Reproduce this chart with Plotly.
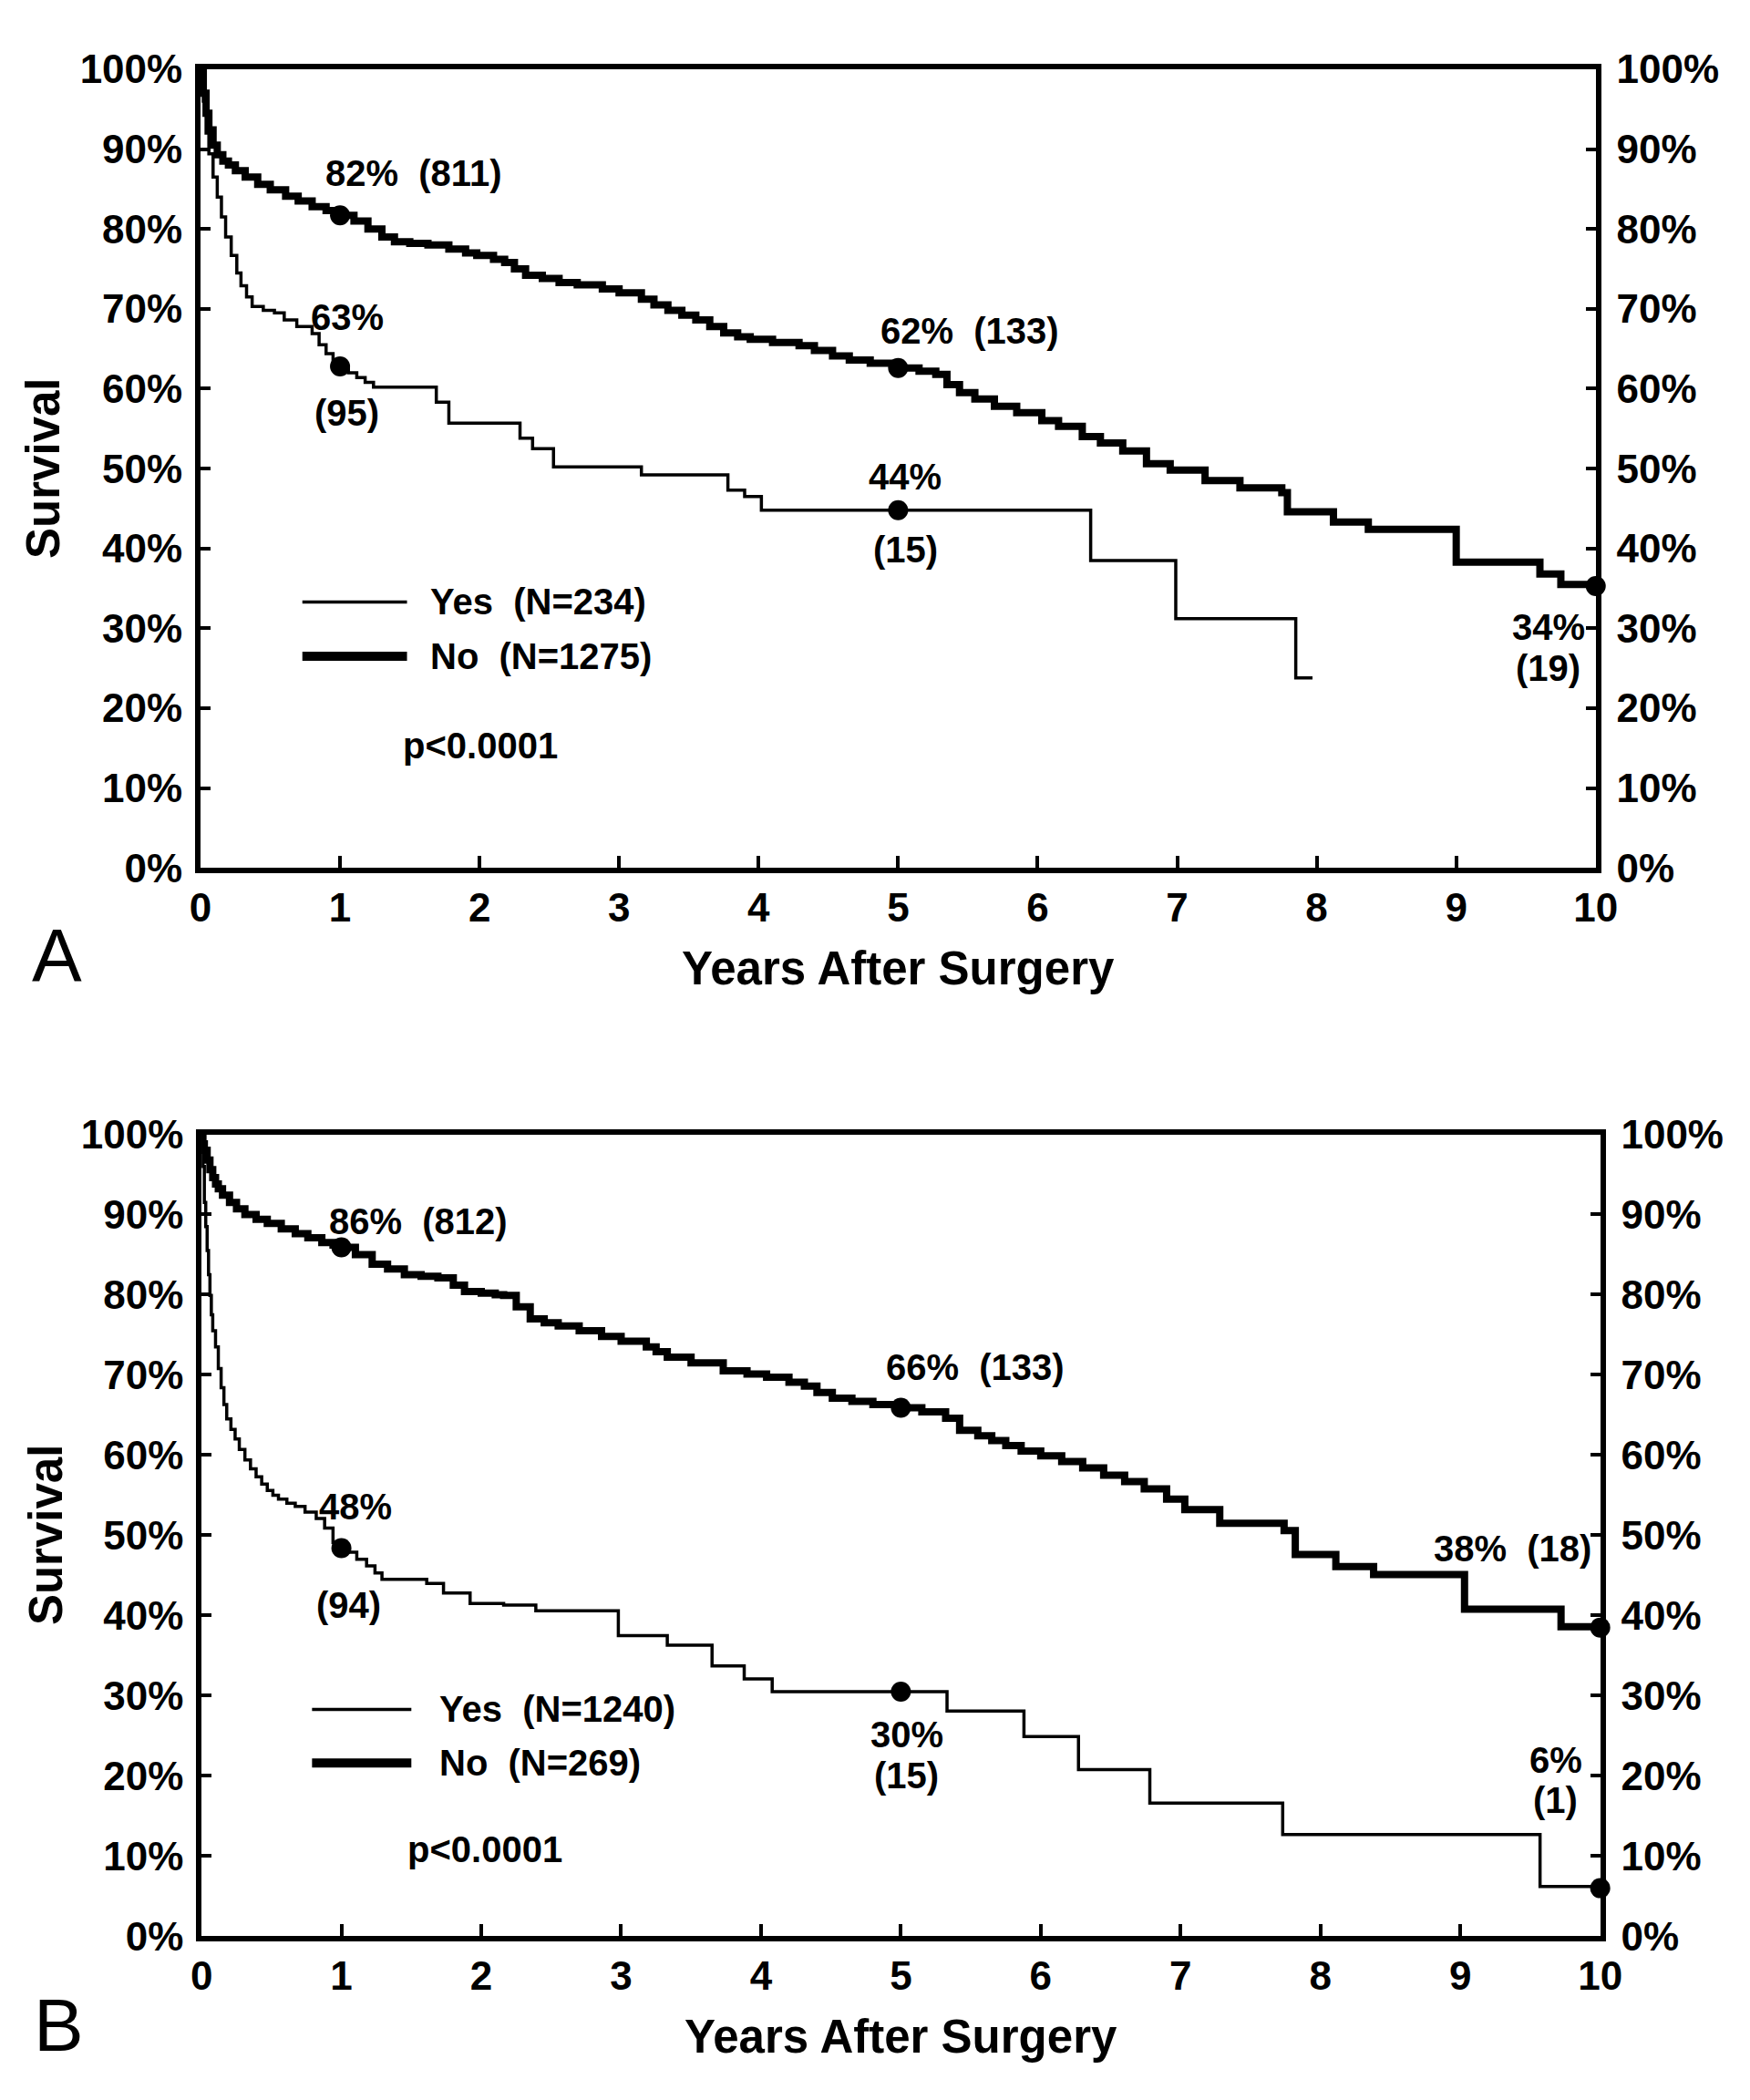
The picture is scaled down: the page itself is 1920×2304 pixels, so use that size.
import plotly.graph_objects as go

# ---------------- data ----------------
years_ticks = [0, 1, 2, 3, 4, 5, 6, 7, 8, 9, 10]
pct_ticks = [0, 10, 20, 30, 40, 50, 60, 70, 80, 90, 100]
pct_labels = [f"{v}%" for v in pct_ticks]

# Panel A - "No" (thick)
a_no_t = [0, 0.02, 0.04, 0.06, 0.09, 0.12, 0.16, 0.2, 0.25, 0.32,
          0.41, 0.5, 0.61, 0.7, 0.8, 0.9, 1.0, 1.1, 1.2, 1.3,
          1.39, 1.5, 1.63, 1.78, 1.9, 1.98, 2.1, 2.18, 2.25, 2.33,
          2.45, 2.57, 2.7, 2.88, 3.0, 3.16, 3.25, 3.35, 3.45, 3.55,
          3.65, 3.75, 3.85, 3.94, 4.1, 4.29, 4.4, 4.53, 4.65, 4.8,
          5.0, 5.15, 5.27, 5.35, 5.44, 5.55, 5.69, 5.85, 6.03, 6.15,
          6.32, 6.45, 6.61, 6.78, 6.95, 7.2, 7.45, 7.75, 7.79, 8.12,
          8.37, 9.0, 9.6, 9.75, 10.0]
a_no_s = [100, 97, 94.5, 92.4, 90.5, 89.3, 88.5, 88, 87.3, 86.5,
          85.6, 84.9, 84.1, 83.5, 82.8, 82.3, 81.7, 81, 80, 79,
          78.4, 78.2, 78, 77.5, 77, 76.7, 76.2, 75.8, 75, 74.2,
          73.8, 73.3, 73, 72.5, 72, 71.2, 70.5, 69.8, 69.2, 68.6,
          67.8, 67, 66.5, 66.2, 65.8, 65.4, 64.8, 64.1, 63.6, 63.2,
          62.6, 62.2, 61.8, 60.5, 59.5, 58.7, 57.8, 57, 56, 55.3,
          54.0, 53.2, 52.2, 50.6, 49.8, 48.5, 47.6, 47.0, 44.6, 43.3,
          42.4, 38.3, 36.8, 35.5, 35.3]

# Panel A - "Yes" (thin)
a_yes_t = [0, 0.02, 0.04, 0.06, 0.09, 0.12, 0.15, 0.18, 0.22, 0.26,
           0.29, 0.33, 0.37, 0.45, 0.53, 0.6, 0.69, 0.8, 0.85, 0.9,
           0.95, 1.0, 1.06, 1.12, 1.18, 1.24, 1.69, 1.78, 2.29, 2.38,
           2.53, 3.16, 3.78, 3.9, 4.02, 6.38, 6.99, 7.85, 7.97]
a_yes_s = [100, 96, 92, 89.4, 86.5, 84, 81.5, 79, 76.7, 74.5,
           72.9, 71.5, 70.3, 69.8, 69.5, 68.6, 67.8, 66.9, 65.5, 64.4,
           63.5, 62.8, 62, 61.4, 60.8, 60.2, 58.3, 55.7, 53.8, 52.5,
           50.2, 49.2, 47.3, 46.5, 44.8, 38.5, 31.2, 23.8, 23.8]

# Panel B - "No" (thick)
b_no_t = [0, 0.01, 0.02, 0.04, 0.06, 0.08, 0.1, 0.12, 0.15, 0.2,
          0.25, 0.31, 0.39, 0.47, 0.57, 0.67, 0.76, 0.86, 0.94, 1.02,
          1.1, 1.22, 1.33, 1.45, 1.57, 1.69, 1.8, 1.88, 2.0, 2.1,
          2.16, 2.25, 2.35, 2.45, 2.55, 2.7, 2.86, 3.0, 3.18, 3.25,
          3.33, 3.5, 3.73, 3.9, 4.04, 4.2, 4.31, 4.4, 4.51, 4.65,
          4.8, 5.0, 5.15, 5.32, 5.42, 5.55, 5.65, 5.75, 5.86, 6.0,
          6.15, 6.3, 6.45, 6.6, 6.74, 6.9, 7.03, 7.28, 7.74, 7.82,
          8.11, 8.38, 9.03, 9.72, 10.0]
b_no_s = [100, 98.8, 98, 96.8, 95.6, 94.6, 93.8, 93.2, 92.4, 91.5,
          90.7, 90, 89.4, 88.9, 88.2, 87.6, 87.1, 86.5, 86.2, 85.9,
          85, 83.8, 83.2, 82.5, 82.3, 82.1, 81.2, 80.4, 80.2, 80,
          79.9, 78.5, 77, 76.5, 76.1, 75.5, 74.8, 74.2, 73.5, 72.9,
          72.2, 71.5, 70.5, 70.1, 69.7, 69.1, 68.6, 67.8, 67.1, 66.7,
          66.3, 65.9, 65.4, 64.6, 63.1, 62.4, 61.8, 61.2, 60.5, 59.9,
          59.2, 58.4, 57.5, 56.7, 55.8, 54.5, 53.2, 51.5, 50.6, 47.6,
          46.1, 45.1, 40.8, 38.6, 38.5]

# Panel B - "Yes" (thin)
b_yes_t = [0, 0.01, 0.02, 0.03, 0.04, 0.05, 0.06, 0.07, 0.08, 0.1,
           0.12, 0.14, 0.16, 0.18, 0.21, 0.24, 0.27, 0.31, 0.35, 0.39,
           0.43, 0.47, 0.51, 0.55, 0.61, 0.67, 0.74, 0.82, 0.88, 0.94,
           1.0, 1.04, 1.11, 1.18, 1.24, 1.29, 1.61, 1.73, 1.92, 2.16,
           2.39, 2.98, 3.33, 3.65, 3.88, 4.08, 5.33, 5.88, 6.27, 6.78,
           7.73, 9.57, 10.0]
b_yes_s = [100, 96, 91.5, 88.5, 85.5, 82.5, 79.9, 77.5, 75.5, 73.5,
           70.8, 68.4, 66.3, 64.5, 63.2, 62, 60.7, 59.4, 58.3, 57.3,
           56.4, 55.6, 55, 54.5, 54, 53.6, 52.9, 52.1, 50.9, 49.1,
           48.4, 47.9, 47, 46.2, 45.3, 44.5, 44, 42.8, 41.5, 41.3,
           40.6, 37.5, 36.3, 33.7, 32.1, 30.5, 28.1, 24.9, 20.8, 16.6,
           12.7, 6.2, 6.0]

# highlighted points
a_no_mark_t = [1, 5, 10]
a_no_mark_s = [81.7, 62.6, 35.3]
a_yes_mark_t = [1, 5]
a_yes_mark_s = [62.8, 44.8]
b_no_mark_t = [1, 5, 10]
b_no_mark_s = [85.9, 65.9, 38.5]
b_yes_mark_t = [1, 5, 10]
b_yes_mark_s = [48.4, 30.5, 6.0]

# texts
a_legend = ["Yes  (N=234)", "No  (N=1275)"]
b_legend = ["Yes  (N=1240)", "No  (N=269)"]
p_text = "p<0.0001"
a_labels = ["82%  (811)", "63%", "(95)", "62%  (133)", "44%", "(15)", "34%", "(19)"]
b_labels = ["86%  (812)", "48%", "(94)", "66%  (133)", "30%", "(15)", "38%  (18)", "6%", "(1)"]

# ---------------- figure ----------------
FONT = "Liberation Sans, Arial, Helvetica, sans-serif"
THICK = 8
THIN = 3.5
FRAME = 6

fig = go.Figure()

def add_curve(t, s, width, xa, ya):
    fig.add_trace(go.Scatter(x=t, y=s, mode="lines", xaxis=xa, yaxis=ya,
                             line=dict(shape="hv", width=width, color="black"),
                             cliponaxis=False, showlegend=False, hoverinfo="skip"))

def add_marks(t, s, xa, ya):
    fig.add_trace(go.Scatter(x=t, y=s, mode="markers", xaxis=xa, yaxis=ya,
                             marker=dict(size=22, color="black"),
                             cliponaxis=False, showlegend=False, hoverinfo="skip"))

add_curve(a_yes_t, a_yes_s, THIN, "x", "y")
add_curve(a_no_t, a_no_s, THICK, "x", "y")
# markers go on the right-hand (overlaying) axes, which share the same 0-100 range
add_marks(a_yes_mark_t, a_yes_mark_s, "x", "y3")
add_marks(a_no_mark_t, a_no_mark_s, "x", "y3")

add_curve(b_yes_t, b_yes_s, THIN, "x2", "y2")
add_curve(b_no_t, b_no_s, THICK, "x2", "y2")
add_marks(b_yes_mark_t, b_yes_mark_s, "x2", "y4")
add_marks(b_no_mark_t, b_no_mark_s, "x2", "y4")

tickfont = dict(family=FONT, size=44, color="black", weight="bold")

def xaxis_cfg(domain, anchor):
    return dict(domain=domain, anchor=anchor, range=[0, 10], tickvals=years_ticks,
                ticktext=[str(v) for v in years_ticks], ticks="inside", ticklen=13,
                tickwidth=4, tickcolor="black", showline=True, linewidth=FRAME,
                linecolor="black", mirror=True, showgrid=False, zeroline=False,
                tickfont=tickfont, ticklabelstandoff=0, fixedrange=True)

def yaxis_cfg(domain, anchor, side="left", overlay=None):
    d = dict(domain=domain, anchor=anchor, range=[0, 100], tickvals=pct_ticks,
             ticktext=pct_labels, ticks="inside", ticklen=11, tickwidth=4,
             tickcolor="black", showline=True, linewidth=FRAME, linecolor="black",
             mirror=True, showgrid=False, zeroline=False, tickfont=tickfont,
             side=side, ticklabelstandoff=5 if side == "left" else 8, fixedrange=True)
    if overlay:
        d["overlaying"] = overlay
    return d

A_X = [0.1104, 0.9229]
A_Y = [0.5888, 0.9774]
B_X = [0.1110, 0.9255]
B_Y = [0.0690, 0.4592]

fig.update_layout(
    width=1920, height=2304,
    margin=dict(l=0, r=0, t=0, b=0),
    paper_bgcolor="white", plot_bgcolor="white",
    showlegend=False,
    xaxis=xaxis_cfg(A_X, "y"),
    yaxis=yaxis_cfg(A_Y, "x"),
    yaxis3=yaxis_cfg(A_Y, "x", side="right", overlay="y"),
    xaxis2=xaxis_cfg(B_X, "y2"),
    yaxis2=yaxis_cfg(B_Y, "x2"),
    yaxis4=yaxis_cfg(B_Y, "x2", side="right", overlay="y2"),
)

ann = []
lab_font = dict(family=FONT, size=40, color="black", weight="bold")

def txt(text, x, y, xref, yref, xanchor="center", font=lab_font, yanchor="middle", angle=0):
    ann.append(dict(text=text, x=x, y=y, xref=xref, yref=yref, xanchor=xanchor,
                    yanchor=yanchor, showarrow=False, font=font, textangle=angle))

# Panel A annotations
txt(a_labels[0], 0.88, 87, "x", "y", "left")
txt(a_labels[1], 1.05, 69, "x", "y")
txt(a_labels[2], 1.05, 57, "x", "y")
txt(a_labels[3], 4.86, 67.2, "x", "y", "left")
txt(a_labels[4], 5.05, 49, "x", "y")
txt(a_labels[5], 5.05, 39.8, "x", "y")
txt(a_labels[6], 9.66, 30.2, "x", "y")
txt(a_labels[7], 9.66, 25, "x", "y")
txt(a_legend[0], 1.63, 33.3, "x", "y", "left")
txt(a_legend[1], 1.63, 26.5, "x", "y", "left")
txt(p_text, 1.44, 15.3, "x", "y", "left")

# Panel B annotations
txt(b_labels[0], 0.9, 89.1, "x2", "y2", "left")
txt(b_labels[1], 1.1, 53.6, "x2", "y2")
txt(b_labels[2], 1.05, 41.3, "x2", "y2")
txt(b_labels[3], 4.88, 71, "x2", "y2", "left")
txt(b_labels[4], 5.04, 25.2, "x2", "y2")
txt(b_labels[5], 5.04, 20, "x2", "y2")
txt(b_labels[6], 9.95, 48.4, "x2", "y2", "right")
txt(b_labels[7], 9.68, 22, "x2", "y2")
txt(b_labels[8], 9.68, 17, "x2", "y2")
txt(b_legend[0], 1.69, 28.3, "x2", "y2", "left")
txt(b_legend[1], 1.69, 21.6, "x2", "y2", "left")
txt(p_text, 1.46, 10.8, "x2", "y2", "left")

# Axis titles and panel letters
title_font = dict(family=FONT, size=51, color="black", weight="bold")
txt("Years After Surgery", (A_X[0] + A_X[1]) / 2, 0.540, "paper", "paper", font=title_font)
txt("Years After Surgery", (B_X[0] + B_X[1]) / 2, 0.020, "paper", "paper", font=title_font)
txt("Survival", 0.0185, (A_Y[0] + A_Y[1]) / 2, "paper", "paper", font=title_font, angle=-90)
txt("Survival", 0.0205, (B_Y[0] + B_Y[1]) / 2, "paper", "paper", font=title_font, angle=-90)
letter_font = dict(family=FONT, size=82, color="black")
txt("A", 0.027, 0.5465, "paper", "paper", font=letter_font)
txt("B", 0.028, 0.026, "paper", "paper", font=letter_font)

fig.update_layout(annotations=ann)

# Legend sample lines (decoration)
shapes = [
    dict(type="line", xref="x", yref="y", x0=0.73, x1=1.48, y0=33.3, y1=33.3,
         line=dict(color="black", width=THIN)),
    dict(type="line", xref="x", yref="y", x0=0.73, x1=1.48, y0=26.5, y1=26.5,
         line=dict(color="black", width=THICK + 2)),
    dict(type="line", xref="x2", yref="y2", x0=0.79, x1=1.5, y0=28.3, y1=28.3,
         line=dict(color="black", width=THIN)),
    dict(type="line", xref="x2", yref="y2", x0=0.79, x1=1.5, y0=21.6, y1=21.6,
         line=dict(color="black", width=THICK + 2)),
]
fig.update_layout(shapes=shapes)

fig.write_html("out.html", config={"displayModeBar": False, "staticPlot": True},
               post_script="document.body.style.margin='0';")
